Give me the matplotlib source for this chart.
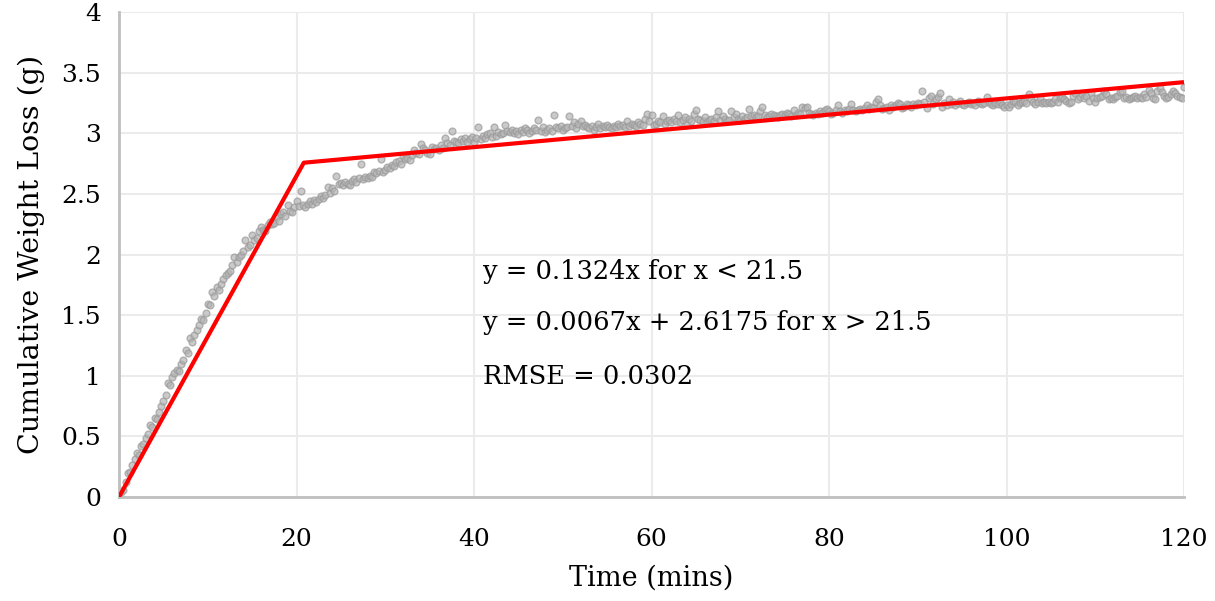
import numpy as np
import matplotlib
matplotlib.use('Agg')
import matplotlib.pyplot as plt

# Mesures : perte de poids cumulee (g), un point toutes les 0.25 min
sample_step = 0.25
weight_loss = [
    0.00, 0.04, 0.06, 0.12, 0.20, 0.21, 0.26, 0.31, 0.36, 0.35, 0.42, 0.44, 0.49, 0.52, 0.59, 0.58, 0.65, 0.64, 0.70, 0.75,
    0.79, 0.84, 0.94, 0.92, 0.99, 1.02, 1.05, 1.04, 1.10, 1.13, 1.21, 1.19, 1.31, 1.28, 1.34, 1.38, 1.42, 1.47, 1.46, 1.52,
    1.59, 1.58, 1.69, 1.66, 1.73, 1.71, 1.76, 1.80, 1.83, 1.85, 1.86, 1.91, 1.98, 1.94, 1.98, 2.00, 2.03, 2.12, 2.06, 2.08,
    2.16, 2.12, 2.14, 2.19, 2.23, 2.20, 2.19, 2.24, 2.27, 2.25, 2.26, 2.31, 2.28, 2.33, 2.35, 2.32, 2.41, 2.36, 2.35, 2.39,
    2.44, 2.40, 2.52, 2.41, 2.39, 2.42, 2.44, 2.42, 2.45, 2.43, 2.46, 2.48, 2.47, 2.49, 2.56, 2.51, 2.55, 2.52, 2.65, 2.58,
    2.59, 2.57, 2.60, 2.58, 2.57, 2.61, 2.62, 2.60, 2.63, 2.75, 2.62, 2.64, 2.63, 2.65, 2.64, 2.68, 2.67, 2.69, 2.79, 2.68,
    2.70, 2.72, 2.71, 2.74, 2.73, 2.76, 2.77, 2.75, 2.81, 2.79, 2.80, 2.78, 2.82, 2.86, 2.84, 2.83, 2.91, 2.88, 2.86, 2.84,
    2.83, 2.89, 2.87, 2.88, 2.86, 2.90, 2.88, 2.96, 2.92, 2.90, 3.02, 2.94, 2.93, 2.92, 2.95, 2.94, 2.96, 2.93, 2.95, 2.97,
    2.93, 2.96, 3.05, 2.95, 2.98, 2.96, 2.99, 3.00, 2.97, 3.05, 2.98, 3.01, 2.99, 3.00, 3.07, 3.02, 3.01, 3.03, 3.00, 3.02,
    2.99, 3.03, 3.01, 3.04, 3.03, 3.00, 3.02, 3.04, 3.03, 3.11, 3.02, 3.05, 3.01, 3.03, 3.04, 3.02, 3.15, 3.05, 3.04, 3.06,
    3.03, 3.04, 3.05, 3.14, 3.06, 3.09, 3.04, 3.08, 3.10, 3.06, 3.07, 3.05, 3.04, 3.06, 3.03, 3.05, 3.08, 3.04, 3.06, 3.05,
    3.07, 3.05, 3.04, 3.06, 3.05, 3.08, 3.06, 3.07, 3.05, 3.10, 3.06, 3.08, 3.07, 3.06, 3.09, 3.08, 3.07, 3.12, 3.16, 3.10,
    3.15, 3.07, 3.08, 3.10, 3.09, 3.14, 3.08, 3.10, 3.11, 3.09, 3.12, 3.10, 3.15, 3.09, 3.11, 3.13, 3.08, 3.12, 3.10, 3.16,
    3.19, 3.12, 3.11, 3.10, 3.13, 3.09, 3.11, 3.12, 3.10, 3.13, 3.18, 3.11, 3.14, 3.12, 3.10, 3.11, 3.18, 3.13, 3.16, 3.12,
    3.11, 3.14, 3.12, 3.13, 3.20, 3.14, 3.15, 3.13, 3.14, 3.18, 3.22, 3.15, 3.13, 3.14, 3.16, 3.15, 3.14, 3.13, 3.15, 3.16,
    3.15, 3.17, 3.16, 3.14, 3.19, 3.15, 3.17, 3.16, 3.22, 3.21, 3.22, 3.17, 3.16, 3.15, 3.17, 3.16, 3.18, 3.17, 3.19, 3.20,
    3.18, 3.16, 3.17, 3.19, 3.23, 3.18, 3.17, 3.19, 3.18, 3.20, 3.24, 3.19, 3.18, 3.19, 3.20, 3.19, 3.21, 3.23, 3.20, 3.22,
    3.21, 3.26, 3.28, 3.23, 3.20, 3.21, 3.22, 3.19, 3.23, 3.22, 3.23, 3.25, 3.24, 3.21, 3.22, 3.24, 3.23, 3.22, 3.24, 3.23,
    3.25, 3.24, 3.35, 3.26, 3.21, 3.29, 3.31, 3.24, 3.28, 3.30, 3.33, 3.22, 3.25, 3.23, 3.28, 3.24, 3.26, 3.23, 3.25, 3.27,
    3.24, 3.23, 3.25, 3.26, 3.24, 3.25, 3.23, 3.27, 3.25, 3.24, 3.25, 3.30, 3.26, 3.24, 3.23, 3.25, 3.24, 3.26, 3.23, 3.22,
    3.23, 3.22, 3.24, 3.27, 3.26, 3.23, 3.25, 3.26, 3.27, 3.25, 3.32, 3.28, 3.26, 3.24, 3.26, 3.29, 3.25, 3.26, 3.25, 3.26,
    3.25, 3.26, 3.28, 3.26, 3.29, 3.30, 3.28, 3.27, 3.25, 3.26, 3.31, 3.33, 3.28, 3.30, 3.32, 3.29, 3.31, 3.27, 3.33, 3.29,
    3.26, 3.29, 3.30, 3.31, 3.35, 3.32, 3.28, 3.29, 3.28, 3.30, 3.31, 3.34, 3.35, 3.29, 3.30, 3.28, 3.29, 3.30, 3.31, 3.29,
    3.30, 3.29, 3.32, 3.30, 3.36, 3.33, 3.29, 3.28, 3.35, 3.37, 3.34, 3.31, 3.29, 3.30, 3.32, 3.35, 3.33, 3.31, 3.30, 3.29,
    3.38,
]
time_min = np.arange(len(weight_loss)) * sample_step

# Modele par morceaux
slope1 = 0.1324
slope2 = 0.0067
intercept2 = 2.6175
x_end = 120
x_break = intercept2 / (slope1 - slope2)
fit_x = [0, x_break, x_end]
fit_y = [0, slope1 * x_break, slope2 * x_end + intercept2]

eq_lines = ['y = 0.1324x for x < 21.5',
            'y = 0.0067x + 2.6175 for x > 21.5',
            'RMSE = 0.0302']
eq_y = [1.86, 1.44, 0.99]

plt.rcParams['font.family'] = 'DejaVu Serif'

fig = plt.figure(figsize=(12.15, 6.01), dpi=100)
ax = fig.add_axes([119 / 1215, 1 - 497 / 601, 1065 / 1215, 485 / 601])

ax.scatter(time_min, weight_loss, s=24, facecolor='#b4b4b4', edgecolor='#9a9a9a',
           linewidths=1, alpha=0.7, zorder=2)
ax.plot(fit_x, fit_y, color='#ff0000', lw=3, zorder=3, solid_capstyle='butt')

for txt, yy in zip(eq_lines, eq_y):
    ax.text(41.0, yy, txt, fontsize=18.5, va='center', ha='left')

ax.set_xlim(0, 120)
ax.set_ylim(0, 4)
ax.set_xticks(np.arange(0, 121, 20))
ax.set_yticks(np.arange(0, 4.01, 0.5))
ax.set_yticklabels(['0', '0.5', '1', '1.5', '2', '2.5', '3', '3.5', '4'])
ax.grid(True, color='#ebebeb', lw=1.5, zorder=0)
ax.set_axisbelow(True)

for side in ['top', 'right']:
    ax.spines[side].set_visible(False)
for side in ['left', 'bottom']:
    ax.spines[side].set_color('#bfbfbf')
    ax.spines[side].set_linewidth(2)

ax.tick_params(length=0, labelsize=18)
ax.tick_params(axis='x', pad=22)
ax.tick_params(axis='y', pad=13)
ax.set_xlabel('Time (mins)', fontsize=19.5, labelpad=10)
ax.set_ylabel('Cumulative Weight Loss (g)', fontsize=20.5, labelpad=12)

fig.savefig('out.png', dpi=100)
